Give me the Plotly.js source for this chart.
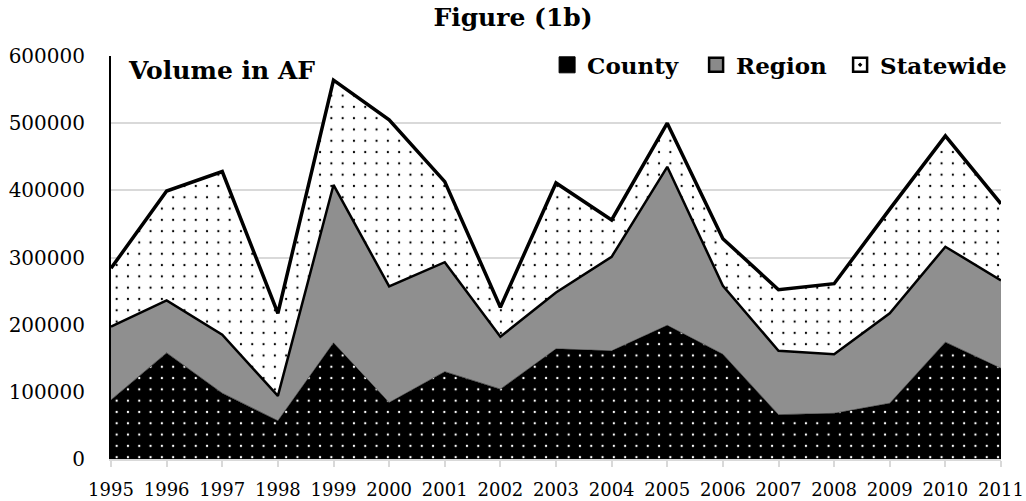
<!DOCTYPE html>
<html>
<head>
<meta charset="utf-8">
<script src="https://cdn.plot.ly/plotly-3.0.1.min.js"></script>
<style>html,body{margin:0;padding:0;background:#fff;}#chart{width:1026px;height:501px;}</style>
</head>
<body>
<div id="chart"></div>
<script>
const years = [1995,1996,1997,1998,1999,2000,2001,2002,2003,2004,2005,2006,2007,2008,2009,2010,2011];
const county    = [88000,158000,98000,57000,173000,84000,130000,104000,164000,161000,199000,156000,66000,68000,83000,174000,135000];
const region    = [109000,78000,87000,37000,235000,173000,163000,78000,84000,140000,236000,102000,95000,88000,134000,142000,131000];
const statewide = [87000,163000,243000,123000,156000,248000,120000,44000,163000,55000,65000,70000,91000,105000,155000,165000,114000];
const seriesNames = ['County', 'Region', 'Statewide'];
const yTicks = [0,100000,200000,300000,400000,500000,600000];

const serif = 'DejaVu Serif, Liberation Serif, serif';

const areaStyles = [
  {line: {color: 'black', width: 0.5}, fillcolor: 'black',
   fillpattern: {shape: '.', bgcolor: 'black', fgcolor: 'white', size: 11.3, solidity: 0.035}},
  {line: {color: 'black', width: 2.5}, fillcolor: '#808080',
   fillpattern: {shape: '.', bgcolor: 'white', fgcolor: 'black', size: 2, solidity: 0.5}},
  {line: {color: 'black', width: 3.5}, fillcolor: 'white',
   fillpattern: {shape: '.', bgcolor: 'white', fgcolor: 'black', size: 11.3, solidity: 0.03}}
];
const legendMarkers = [
  {symbol: 'square', color: 'black', size: 16, line: {color: 'black', width: 1}},
  {symbol: 'square', color: '#8a8a8a', size: 14, line: {color: 'black', width: 2.5}},
  {symbol: 'square-dot', color: 'white', size: 14, line: {color: 'black', width: 2.5}}
];
const legendWidths = [104, 99, null];
const seriesData = [county, region, statewide];

const traces = [];
seriesData.forEach((vals, i) => {
  traces.push(Object.assign({
    x: years, y: vals, name: seriesNames[i], type: 'scatter', mode: 'lines',
    stackgroup: 'one', showlegend: false, hoverinfo: 'skip'
  }, areaStyles[i]));
});
seriesData.forEach((vals, i) => {
  const t = {
    x: [null], y: [null], name: seriesNames[i], type: 'scatter', mode: 'markers',
    marker: legendMarkers[i], showlegend: true, hoverinfo: 'skip'
  };
  if (legendWidths[i]) t.legendwidth = legendWidths[i];
  traces.push(t);
});

const layout = {
  width: 1026, height: 501,
  margin: {l: 111, r: 25, t: 56, b: 42},
  paper_bgcolor: 'white', plot_bgcolor: 'white',
  font: {family: serif, color: 'black'},
  title: {text: '<b>Figure (1b)</b>', x: 0.5, xref: 'container', y: 0.965, yanchor: 'middle',
          font: {family: serif, size: 25, color: 'black'}},
  showlegend: true,
  legend: {orientation: 'h', x: 0.49, xanchor: 'left', y: 0.978, yanchor: 'middle',
           font: {family: serif, size: 23, color: 'black', weight: 'bold'},
           bgcolor: 'rgba(0,0,0,0)', itemwidth: 30, traceorder: 'normal'},
  xaxis: {
    type: 'linear', range: [1995, 2011], tickvals: years, ticktext: years.map(String),
    showgrid: false, zeroline: false,
    showline: true, linecolor: '#d9d9d9', linewidth: 2,
    ticks: 'outside', ticklen: 6, tickcolor: '#d9d9d9', tickwidth: 2,
    ticklabelstandoff: 7,
    tickfont: {family: serif, size: 18, color: 'black'}, fixedrange: true
  },
  yaxis: {
    range: [0, 600000], tickvals: yTicks, ticktext: yTicks.map(String),
    showgrid: true, gridcolor: '#d9d9d9', gridwidth: 2,
    zeroline: false, showline: true, linecolor: 'black', linewidth: 2,
    ticks: '', ticklabelstandoff: 20,
    tickfont: {family: serif, size: 20, color: 'black'}, fixedrange: true
  },
  annotations: [{
    text: '<b>Volume in AF</b>', xref: 'paper', yref: 'paper', x: 0.017, y: 0.965,
    xanchor: 'left', yanchor: 'middle', showarrow: false,
    font: {family: serif, size: 25, color: 'black'}
  }]
};

Plotly.newPlot('chart', traces, layout, {displayModeBar: false, staticPlot: true});
</script>
</body>
</html>
